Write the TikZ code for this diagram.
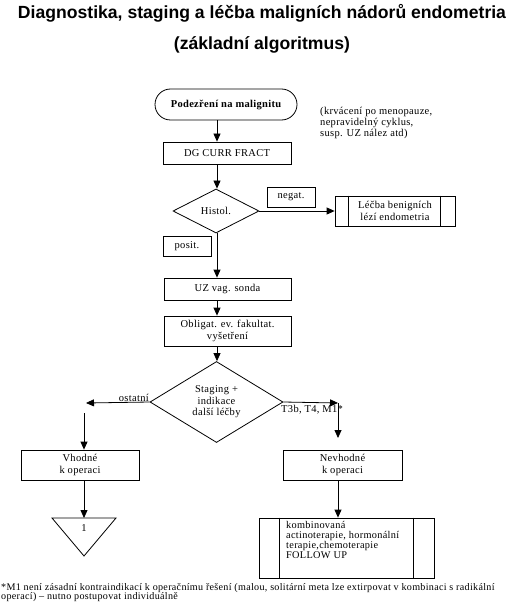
\documentclass[tikz,border=0pt]{standalone}
\usepackage{fontspec}
\setmainfont{Liberation Serif}[LetterSpace=3]
\newfontfamily\titlefont{Liberation Sans}
\usetikzlibrary{shapes.geometric,arrows.meta,calc}
\begin{document}
\begin{tikzpicture}[x=1bp,y=-1bp,
  txt/.style={font=\fontsize{10.5bp}{12bp}\selectfont},
  box/.style={draw,line width=0.8bp,inner sep=0,align=center,txt},
  lbl/.style={inner sep=0,align=left,txt},
  dia/.style={draw,diamond,line width=0.8bp,inner sep=0,align=center,txt},
  arr/.style={line width=0.8bp,-{Triangle[length=8bp,width=7bp]}},
  ln/.style={line width=0.8bp},
  ttl/.style={inner sep=0,font=\titlefont\bfseries\fontsize{17.6bp}{20bp}\selectfont}]
\useasboundingbox[fill=white] (0,0) rectangle (511,608);

% title
\node[ttl] (t1) at (262,13) {Diagnostika, staging a léčba maligních nádorů endometria};
\node[ttl] (t2) at (262,45) {(základní algoritmus)};

\coordinate (axis) at (217,0);

% start
\node[box,minimum width=142bp,minimum height=31bp,rounded corners=15.5bp,font=\bfseries\fontsize{10.5bp}{12bp}\selectfont] (start) at (226,104.5) {Podezření na malignitu};
\node[lbl,anchor=north west,font=\fontsize{10.5bp}{11bp}\selectfont] (note) at (320,107) {(krvácení po menopauze,\\nepravidelný cyklus,\\susp. UZ nález atd)};

\node[box,minimum width=128bp,minimum height=22bp] (dg) at (227,153) {DG CURR FRACT};

\node[dia,minimum width=86bp,minimum height=44bp] (histol) at (216,211) {Histol.};
\node[box,minimum width=48bp,minimum height=20bp] (negat) at (291,197) {negat.};
\node[box,minimum width=120bp,minimum height=30bp] (lecba) at (395,211) {Léčba benigních\\lézí endometria};
\draw[ln] ($(lecba.north west)+(14,0)$) -- ($(lecba.south west)+(14,0)$);
\draw[ln] ($(lecba.north east)+(-15,0)$) -- ($(lecba.south east)+(-15,0)$);
\node[box,minimum width=48bp,minimum height=20bp] (posit) at (187,246) {posit.};

\node[box,minimum width=127bp,minimum height=22bp] (uz) at (227.5,289) {UZ vag. sonda};
\node[box,minimum width=127bp,minimum height=30bp,font=\fontsize{10.5bp}{11.5bp}\selectfont] (oblig) at (227.5,331) {Obligat. ev. fakultat.\\vyšetření};

\node[dia,minimum width=133bp,minimum height=81bp,font=\fontsize{10.5bp}{11.5bp}\selectfont] (staging) at (216.5,402) {Staging +\\indikace\\další léčby};

\coordinate (ltip) at (86,403);
\coordinate (lstart) at (84,413);
\coordinate (rtip) at (338,403);
\coordinate (rend) at (338,438);
\node[lbl,anchor=south east] (ostatni) at (149,402) {ostatní};
\node[lbl,anchor=north west] (t3b) at (281,405) {T3b, T4, M1*};

\node[box,minimum width=118bp,minimum height=30bp] (vhodne) at (80,465) {Vhodné\\k operaci};
\node[box,minimum width=119bp,minimum height=30bp] (nevhodne) at (342.5,465) {Nevhodné\\k operaci};

% triangle
\coordinate (tritop) at (84,518);
\draw[ln] (52,518) -- (116,518) -- (84,556) -- cycle;
\node[lbl] (one) at (84,528) {1};

% final box
\node[draw,line width=0.8bp,minimum width=175bp,minimum height=60bp,inner sep=0] (komb) at (346.5,548) {};
\draw[ln] ($(komb.north west)+(21,0)$) -- ($(komb.south west)+(21,0)$);
\draw[ln] ($(komb.north east)+(-21,0)$) -- ($(komb.south east)+(-21,0)$);
\node[lbl,anchor=north west,font=\fontsize{10.3bp}{10bp}\selectfont] (kombtxt) at (286,521.5) {kombinovaná\\actinoterapie, hormonální\\terapie,chemoterapie\\FOLLOW UP};

% footnote
\node[lbl,anchor=north west,font=\fontsize{10.1bp}{9.5bp}\selectfont] (foot) at (1,583) {*M1 není zásadní kontraindikací k operačnímu řešení (malou, solitární meta lze extirpovat v kombinaci s radikální\\operací) – nutno postupovat individuálně};

% connectors
\draw[arr] (start.south -| axis) -- (dg.north -| axis);
\draw[arr] (dg.south -| axis) -- (histol.north -| axis);
\draw[arr] (histol.east) -- (lecba.west);
\draw[arr] (histol.south -| axis) -- (uz.north -| axis);
\draw[arr] (uz.south -| axis) -- (oblig.north -| axis);
\draw[arr] (oblig.south -| axis) -- (staging.north -| axis);
\draw[arr] (staging.west) -- (ltip);
\draw[arr] (lstart) -- (vhodne.north -| lstart);
\draw[arr] (staging.east) -- (rtip);
\draw[arr] (rtip) -- (rend);
\draw[arr] (vhodne.south -| tritop) -- (tritop);
\draw[arr] (nevhodne.south -| rtip) -- (komb.north -| rtip);
\end{tikzpicture}
\end{document}
